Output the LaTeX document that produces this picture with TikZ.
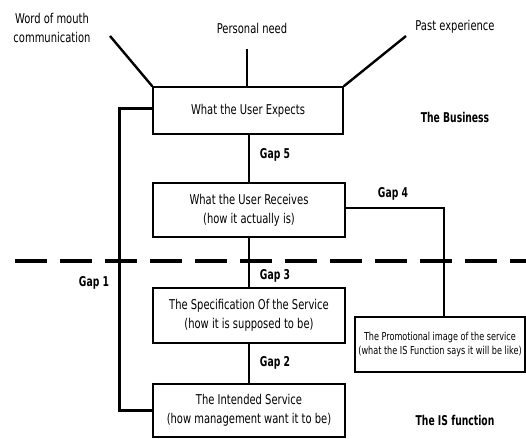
\documentclass[tikz,border=0pt]{standalone}
\usepackage{fontspec}
\setmainfont{DejaVu Sans Condensed}[FakeStretch=0.82]
\newfontfamily\gapfont{DejaVu Sans Condensed}[FakeStretch=0.76]
\begin{document}
\begin{tikzpicture}[x=1pt,y=-1pt,
  box/.style={draw,line width=1.4pt,align=center,inner sep=0pt,font=\fontsize{13.5}{19}\selectfont},
  conn/.style={line width=2.4pt},
  lbl/.style={align=center,inner sep=0pt,font=\fontsize{13.5}{19}\selectfont},
  gap/.style={inner sep=0pt,font=\gapfont\bfseries\fontsize{13.5}{14}\selectfont}]
\useasboundingbox (0,0) rectangle (526,438);
\draw[line width=4pt,dash pattern=on 32pt off 13pt] (15,261) -- (526,261);
\node[box,minimum width=190,minimum height=47] (exp) at (248,110.5) {What the User Expects};
\node[box,minimum width=192,minimum height=54] (rec) at (249,210) {What the User Receives\\(how it actually is)};
\node[box,minimum width=192,minimum height=55] (spec) at (249,315.5) {The Specification Of the Service\\(how it is supposed to be)};
\node[box,minimum width=192,minimum height=53] (int) at (249,410.5) {The Intended Service\\(how management want it to be)};
\node[box,minimum width=170,minimum height=55,font=\fontsize{11}{14}\selectfont] (promo) at (440,344.5) {The Promotional image of the service\\(what the IS Function says it will be like)};
\node[lbl] (wom) at (52,28) {Word of mouth\\communication};
\node[lbl] (pn) at (252,28) {Personal need};
\node[lbl] (pe) at (455,27) {Past experience};
\coordinate (wome) at (110,36);
\coordinate (pne) at (247,49);
\coordinate (pee) at (406,36);
\draw[conn] (wome) -- (exp.north west);
\draw[conn] (pne) -- (pne |- exp.north);
\draw[conn] (pee) -- (exp.north east);
\draw[conn] (rec.north |- exp.south) -- (rec.north);
\draw[conn] (rec.south) -- (spec.north);
\draw[conn] (spec.south) -- (int.north);
\draw[conn] ([yshift=2]exp.west) -- ++(-33,0) |- (int.west);
\draw[conn] ([yshift=2]rec.east) -| ([xshift=4]promo.north);
\node[gap] (g5) at (275,155) {Gap 5};
\node[gap] (g4) at (393,194) {Gap 4};
\node[gap] (g3) at (275,276) {Gap 3};
\node[gap] (g2) at (275,363) {Gap 2};
\node[gap] (g1) at (94,283) {Gap 1};
\node[gap] (bus) at (455,117) {The Business};
\node[gap] (isf) at (455,420) {The IS function};
\end{tikzpicture}
\end{document}
